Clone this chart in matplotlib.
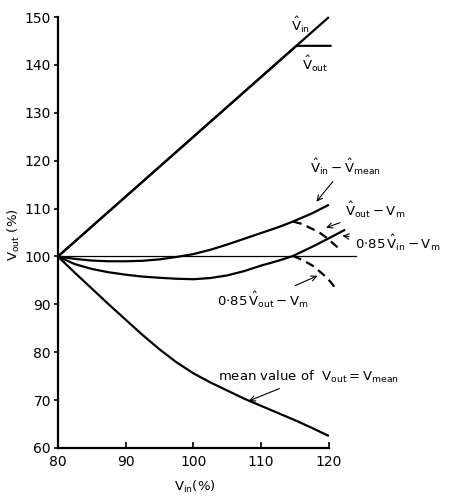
import matplotlib
matplotlib.use("Agg")
import matplotlib.pyplot as plt

# ---- data ----
vin_x = [80, 120]
vin_y = [100, 150]

vout_x = [80, 115.2, 120.4]
vout_y = [100, 144, 144]

ref_x = [80, 124]
ref_y = [100, 100]

vin_vmean_x = [80, 82.5, 85, 87.5, 90, 92.5, 95, 97.5, 100, 102.5, 105, 107.5,
               110, 112.5, 114.7, 117.5, 120]
vin_vmean_y = [100, 99.5, 99.15, 99.0, 99.0, 99.1, 99.4, 99.9, 100.5, 101.4,
               102.5, 103.7, 104.9, 106.1, 107.3, 109.0, 110.8]

vout_vm_x = [114.7, 116, 117.2, 118.5, 119.7, 121.6]
vout_vm_y = [107.3, 106.8, 106.0, 105.1, 103.9, 101.5]

low_x = [80, 82.5, 85, 87.5, 90, 92.5, 95, 97.5, 100, 102.5, 105, 107.5,
         110, 112.5, 114.7, 117.5, 120, 122.4]
low_y = [100, 98.4, 97.4, 96.7, 96.2, 95.8, 95.55, 95.35, 95.25, 95.5, 96.05, 96.95,
         98.1, 99.1, 100.1, 102.0, 103.8, 105.6]

vout85_x = [114.7, 116.2, 117.7, 119.7, 121.1]
vout85_y = [100.1, 99.2, 98.0, 95.6, 93.2]

mean_x = [80, 82.5, 85, 87.5, 90, 92.5, 95, 97.5, 100, 102.5, 105, 107.5,
          110, 112.5, 115, 117.5, 120]
mean_y = [100, 96.6, 93.3, 90.0, 86.8, 83.6, 80.6, 77.9, 75.6, 73.7, 72.0, 70.3,
          68.8, 67.3, 65.8, 64.2, 62.5]

xticks = [80, 90, 100, 110, 120]
yticks = [60, 70, 80, 90, 100, 110, 120, 130, 140, 150]

fig = plt.figure(figsize=(4.49, 4.97), dpi=100)
ax = fig.add_axes([0.129, 0.0986, 0.694, 0.867])
ax.set_xlim(80, 126)
ax.set_ylim(60, 150)

lw = 1.6
kw = dict(color='black', lw=lw, clip_on=False, solid_capstyle='butt',
          solid_joinstyle='round')
ax.plot(vin_x, vin_y, **kw)
ax.plot(vout_x, vout_y, **kw)
ax.plot(ref_x, ref_y, color='black', lw=0.9, clip_on=False)
ax.plot(vin_vmean_x, vin_vmean_y, **kw)
ax.plot(low_x, low_y, **kw)
ax.plot(mean_x, mean_y, **kw)
ax.plot(vout_vm_x, vout_vm_y, color='black', lw=lw, ls=(0, (4, 2.5)), clip_on=False)
ax.plot(vout85_x, vout85_y, color='black', lw=lw, ls=(0, (4, 2.5)), clip_on=False)

for s in ['top', 'right']:
    ax.spines[s].set_visible(False)
ax.spines['bottom'].set_bounds(80, 120)
ax.spines['left'].set_linewidth(1.6)
ax.spines['bottom'].set_linewidth(1.6)
ax.set_xticks(xticks)
ax.set_yticks(yticks)
ax.tick_params(axis='x', direction='in', length=4, width=1.2, labelsize=10, pad=5)
ax.tick_params(axis='y', direction='out', length=3, width=1.2, labelsize=10, pad=2)

ax.set_xlabel(r'$\mathrm{V_{in}}$' + '(%)', fontsize=9.5)
ax.xaxis.set_label_coords(0.44, -0.072)
ax.set_ylabel(r'$\mathrm{V_{out}}$' + ' (%)', fontsize=9.5)
ax.yaxis.set_label_coords(-0.115, 0.494)

fs = 9.5
ax.text(115.8, 148.3, r'$\hat{\mathrm{V}}_{\mathrm{in}}$', fontsize=fs, ha='center', va='center')
ax.text(117.9, 140.2, r'$\hat{\mathrm{V}}_{\mathrm{out}}$', fontsize=fs, ha='center', va='center')

arrow = dict(arrowstyle='->', color='black', lw=0.8)
ax.annotate(r'$\hat{\mathrm{V}}_{\mathrm{in}}-\hat{\mathrm{V}}_{\mathrm{mean}}$',
            xy=(117.9, 111.0), xytext=(122.4, 118.8), fontsize=fs,
            ha='center', va='center', arrowprops=arrow, annotation_clip=False)
ax.annotate(r'$\hat{\mathrm{V}}_{\mathrm{out}}-\mathrm{V_m}$',
            xy=(119.2, 105.8), xytext=(126.9, 109.8), fontsize=fs,
            ha='center', va='center', arrowprops=arrow, annotation_clip=False)
ax.annotate(r'$0{\cdot}85\,\hat{\mathrm{V}}_{\mathrm{in}}-\mathrm{V_m}$',
            xy=(121.6, 104.4), xytext=(123.8, 102.9), fontsize=fs,
            ha='left', va='center', arrowprops=arrow, annotation_clip=False)
ax.annotate(r'$0{\cdot}85\,\hat{\mathrm{V}}_{\mathrm{out}}-\mathrm{V_m}$',
            xy=(118.7, 96.2), xytext=(110.3, 91.0), fontsize=fs,
            ha='center', va='center', arrowprops=arrow, annotation_clip=False)
ax.annotate(r'mean value of  $\mathrm{V_{out}=V_{mean}}$',
            xy=(107.8, 69.6), xytext=(117.0, 74.9), fontsize=fs,
            ha='center', va='center', arrowprops=arrow, annotation_clip=False)

fig.savefig('out.png', dpi=100)
